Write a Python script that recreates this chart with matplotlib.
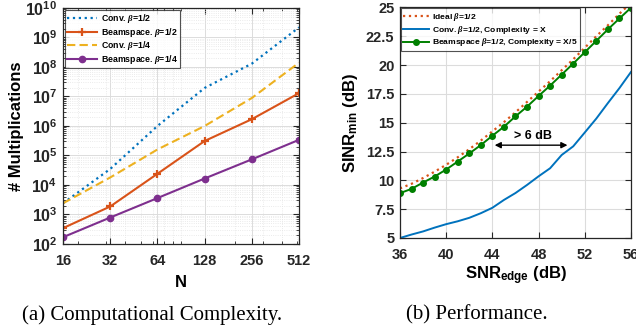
import math
import matplotlib
matplotlib.use("Agg")
import matplotlib.pyplot as plt
from matplotlib.ticker import FixedLocator, LogLocator, NullFormatter, FuncFormatter

plt.rcParams['font.family'] = ['Liberation Sans', 'DejaVu Sans']
plt.rcParams['font.weight'] = 'bold'
plt.rcParams['mathtext.fontset'] = 'custom'
plt.rcParams['mathtext.bf'] = 'Liberation Sans:bold'
plt.rcParams['mathtext.rm'] = 'Liberation Sans:bold'
plt.rcParams['mathtext.it'] = 'Liberation Serif:italic'

# (a) complexity data
N = [16, 32, 64, 128, 256, 512]
conv_half = [2.4e3, 3.5e4, 1.0e6, 1.95e7, 1.3e8, 2.2e9]
beam_half = [345, 1.87e3, 2.4e4, 3.1e5, 1.7e6, 1.3e7]
conv_quarter = [2.4e3, 1.8e4, 1.6e5, 1.0e6, 8.9e6, 1.4e8]
beam_quarter = [170, 790, 3.6e3, 1.66e4, 7.4e4, 3.4e5]

# (b) performance data
snr_edge = [36, 37, 38, 39, 40, 41, 42, 43, 44, 45, 46,
            47, 48, 49, 50, 51, 52, 53, 54, 55, 56]
sinr_ideal = [9.3, 9.7, 10.2, 10.75, 11.35, 12.0, 12.7, 13.45, 14.25, 15.05, 15.9,
              16.8, 17.7, 18.6, 19.55, 20.5, 21.5, 22.5, 23.45, 24.45, 25.4]
sinr_conv = [5.0, 5.3, 5.57, 5.9, 6.2, 6.45, 6.75, 7.15, 7.62, 8.3, 8.9,
             9.6, 10.35, 11.05, 12.2, 12.95, 14.15, 15.36, 16.7, 18.0, 19.4]
sinr_beam = [8.89, 9.26, 9.81, 10.33, 10.94, 11.63, 12.33, 13.06, 13.87, 14.65, 15.55,
             16.39, 17.32, 18.22, 19.17, 20.13, 21.11, 22.1, 23.09, 24.04, 24.97]

blue = '#0072BD'
orange = '#D95319'
yellow = '#EDB120'
purple = '#7E2F8E'
green = '#008000'
dark = '#262626'

fig = plt.figure(figsize=(6.36, 3.30), dpi=100)
ax1 = fig.add_axes([0.0991, 0.2606, 0.3711, 0.7152])
ax2 = fig.add_axes([0.6289, 0.2788, 0.3632, 0.6988])

def style_axes(ax, ysize=10.5):
    for s in ax.spines.values():
        s.set_color(dark)
        s.set_linewidth(0.9)
    ax.tick_params(which='both', direction='in', top=True, right=True, colors=dark)
    ax.tick_params(axis='x', labelsize=10.5, pad=7)
    ax.tick_params(axis='y', labelsize=ysize, pad=4)
    ax.tick_params(which='major', length=4, width=0.8)
    ax.tick_params(which='minor', length=2, width=0.6)
    for lab in ax.get_xticklabels() + ax.get_yticklabels():
        lab.set_fontweight('bold')

def style_legend(leg):
    leg.get_frame().set_edgecolor(dark)
    leg.get_frame().set_linewidth(0.8)

# ---- (a)
ax1.plot(N, conv_half, ':', color=blue, lw=1.6, label=r'Conv. $\beta$=1/2')
ax1.plot(N, beam_half, '-', color=orange, lw=1.5, marker='+', ms=6, mew=1.6,
         label=r'Beamspace. $\beta$=1/2')
ax1.plot(N, conv_quarter, '--', color=yellow, lw=1.5, dashes=(4, 2),
         label=r'Conv. $\beta$=1/4')
ax1.plot(N, beam_quarter, '-', color=purple, lw=1.5, marker='o', ms=4.5,
         label=r'Beamspace. $\beta$=1/4')
ax1.set_xscale('log')
ax1.set_yscale('log')
ax1.set_xlim(16, 512)
ax1.set_ylim(1e2, 1e10)
ax1.xaxis.set_major_locator(FixedLocator(N))
ax1.xaxis.set_major_formatter(FuncFormatter(lambda v, p: '%d' % v))
ax1.xaxis.set_minor_locator(LogLocator(base=10, subs=range(2, 10)))
ax1.xaxis.set_minor_formatter(NullFormatter())
ax1.yaxis.set_major_locator(FixedLocator([10.0 ** k for k in range(2, 11)]))
ax1.yaxis.set_major_formatter(FuncFormatter(lambda v, p: r'$\mathbf{10^{%d}}$' % round(math.log10(v))))
ax1.yaxis.set_minor_locator(LogLocator(base=10, subs=range(2, 10), numticks=20))
ax1.yaxis.set_minor_formatter(NullFormatter())
ax1.grid(True, which='major', color='#dcdcdc', lw=0.7)
ax1.grid(True, which='minor', color='#e4e4e4', lw=0.6, ls=':')
ax1.set_axisbelow(True)
ax1.set_xlabel('N', fontsize=12, fontweight='bold', labelpad=5)
ax1.set_ylabel('# Multiplications', fontsize=12, fontweight='bold', labelpad=1)
style_axes(ax1, ysize=11.5)
leg1 = ax1.legend(loc='upper left', fontsize=6.3, frameon=True, fancybox=False,
                  borderpad=0.3, labelspacing=0.05, handlelength=3.4,
                  handletextpad=0.4, borderaxespad=0.2)
style_legend(leg1)

# ---- (b)
ax2.plot(snr_edge, sinr_ideal, ':', color=orange, lw=1.6, label=r'Ideal $\beta$=1/2')
ax2.plot(snr_edge, sinr_conv, '-', color=blue, lw=1.4,
         label=r'Conv. $\beta$=1/2, Complexity = X')
ax2.plot(snr_edge, sinr_beam, '-', color=green, lw=1.4, marker='o', ms=4,
         label=r'Beamspace $\beta$=1/2, Complexity = X/5')
ax2.set_xlim(36, 56)
ax2.set_ylim(5, 25)
ax2.set_xticks([36, 40, 44, 48, 52, 56])
ax2.set_yticks([5, 7.5, 10, 12.5, 15, 17.5, 20, 22.5, 25])
ax2.set_yticklabels(['5', '7.5', '10', '12.5', '15', '17.5', '20', '22.5', '25'])
ax2.grid(True, color='#dcdcdc', lw=0.8)
ax2.set_axisbelow(True)
ax2.set_xlabel(r'$\mathbf{SNR_{edge}}$ (dB)', fontsize=12, fontweight='bold', labelpad=2)
ax2.set_ylabel(r'$\mathbf{SINR_{min}}$ (dB)', fontsize=12, fontweight='bold', labelpad=4)
style_axes(ax2)
ax2.annotate('', xy=(44.2, 13.05), xytext=(50.5, 13.05),
             arrowprops=dict(arrowstyle='<|-|>', color='black', lw=1.0,
                             mutation_scale=9, shrinkA=0, shrinkB=0))
ax2.text(47.5, 13.85, '> 6 dB', ha='center', va='center', fontsize=9, fontweight='bold')
leg2 = ax2.legend(loc='upper left', fontsize=6.1, frameon=True, fancybox=False,
                  borderpad=0.3, labelspacing=0.1, handlelength=3.0,
                  handletextpad=0.35, borderaxespad=0.1)
style_legend(leg2)

# captions
fig.text(152 / 636, 1 - 315 / 330, '(a) Computational Complexity.',
         ha='center', va='center', family='Liberation Serif', fontweight='normal', fontsize=15)
fig.text(477 / 636, 1 - 315 / 330, '(b) Performance.',
         ha='center', va='center', family='Liberation Serif', fontweight='normal', fontsize=15)

fig.savefig('out.png', dpi=100)
